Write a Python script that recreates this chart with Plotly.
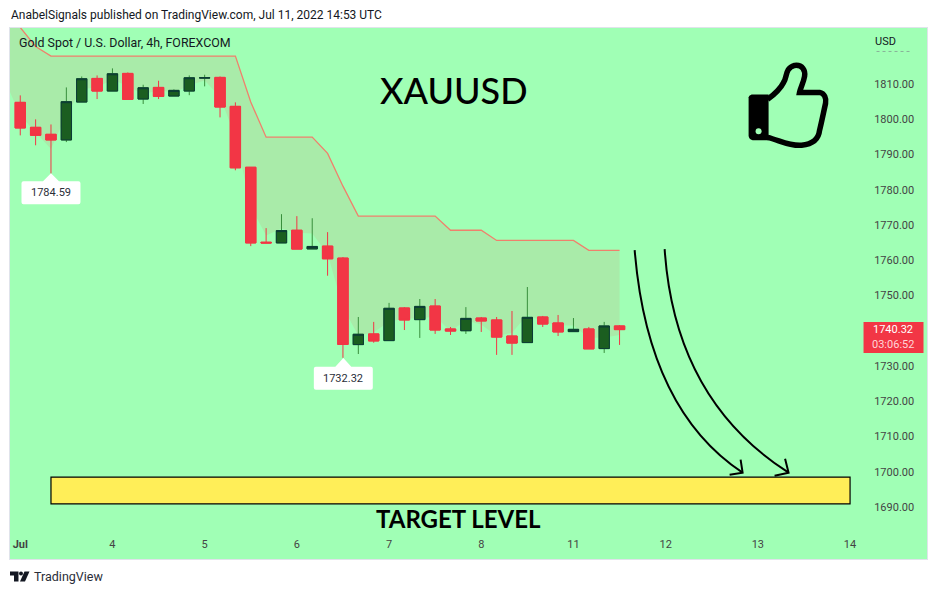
import plotly.graph_objects as go

bar_index = list(range(40))
opens = [1804.76,1797.68,1795.7,1794.1,1804.85,1811.55,1807.97,1812.97,1805.7,1809.0,1806.55,1807.97,1811.65,1811.84,1803.63,1786.36,1765.1,1764.9,1768.5,1763.2,
         1764.0,1760.6,1736.07,1739.1,1737.2,1746.45,1743.15,1747.0,1740.5,1740.0,1743.6,1743.05,1738.5,1736.64,1743.9,1742.2,1739.75,1740.5,1734.94,1741.36]
closes = [1797.5,1795.42,1794.1,1804.95,1811.46,1807.97,1812.87,1805.6,1808.9,1806.46,1808.16,1811.74,1811.74,1803.44,1786.2,1764.9,1764.9,1768.4,1763.15,1763.9,
          1760.4,1736.1,1739.0,1737.1,1746.36,1743.05,1746.9,1740.2,1739.9,1743.5,1742.77,1738.2,1736.5,1743.8,1741.9,1739.66,1740.4,1734.85,1741.36,1740.32]
highs = [1806.74,1799.95,1798.5,1809.0,1812.1,1812.4,1814.4,1813.25,1809.76,1810.9,1808.44,1812.4,1812.6,1812.1,1804.76,1786.36,1769.1,1773.06,1772.5,1771.9,
         1767.96,1760.9,1743.9,1742.5,1747.9,1746.7,1749.0,1749.0,1741.07,1746.7,1743.9,1743.9,1745.6,1752.4,1744.2,1744.47,1743.6,1741.07,1742.5,1741.6]
lows = [1795.4,1792.59,1784.59,1793.5,1804.85,1805.7,1807.97,1805.6,1804.3,1805.7,1806.55,1806.8,1809.3,1800.5,1785.5,1764.0,1764.9,1764.9,1763.15,1763.2,
        1755.6,1732.32,1733.4,1736.6,1737.2,1740.2,1737.96,1739.1,1738.8,1739.1,1739.66,1733.15,1733.15,1736.64,1741.07,1738.5,1739.75,1734.85,1733.7,1735.98]
band_x = [-1] + bar_index
band_upper = [1832,1826,1820.6,1817.9,1817.9,1817.9,1817.9,1817.9,1817.9,1817.9,1817.9,1817.9,1817.9,1817.9,1817.9,1817.9,1804.85,1794.9,1794.9,1794.9,1794.9,
              1790.3,1781,1772.5,1772.5,1772.5,1772.5,1772.5,1772.5,1768.5,1768.5,1768.5,1765.6,1765.6,1765.6,1765.6,1765.6,1765.6,1762.8,1762.8,1762.8]
band_lower = [1811,1801.07,1796.27,1791.55,1801.25,1808.5,1809.05,1811.2,1809.4,1807.0,1808.3,1807.5,1809.6,1810.95,1806.3,1795.1,1775.2,1767,1769,1767.8,1767.55,
              1761.8,1746.6,1738.65,1739.55,1742.55,1743.45,1743.5,1744.05,1739.95,1742.9,1741.8,1738.5,1739.4,1744.5,1742.6,1741.5,1741.5,1737.95,1738.1,1738.8]
tick_positions = [0,6,12,18,24,30,36,42,48,54]
tick_labels = ["<b>Jul</b>","4","5","6","7","8","11","12","13","14"]
price_ticks = [1690,1700,1710,1720,1730,1740,1750,1760,1770,1780,1790,1800,1810]
target_low, target_high = 1690.9, 1698.5
target_start, target_end = 2, 54

W, H = 938, 595
L, R, T, B = 10, 927.5, 27.5, 559.5
X_RANGE = [-0.667, 59.007]
Y_RANGE = [1675.27, 1825.85]
BG = "#A0FFB5"
RED = "#F23645"
GREEN = "#1B5E20"
WICK = "#388E3C"
EDGE = "#0B3B36"
FONT = "Roboto"

def px(x):
    return (x - L) / (R - L)
def py(y):
    return (B - y) / (B - T)
def path(points, close=True):
    s = ""
    for cmd, *c in points:
        s += cmd
        s += " ".join(f"{px(c[i]):.5f},{py(c[i+1]):.5f}" for i in range(0, len(c), 2)) + " "
    return s + ("Z" if close else "")

fig = go.Figure()
fig.add_trace(go.Scatter(x=band_x, y=band_lower, mode="lines", line=dict(width=0), showlegend=False, hoverinfo="skip"))
fig.add_trace(go.Scatter(x=band_x, y=band_upper, mode="lines", line=dict(color="#F0806C", width=1.3),
                         fill="tonexty", fillcolor="#A9EBA9", showlegend=False, hoverinfo="skip"))
fig.add_trace(go.Candlestick(x=bar_index, open=opens, high=highs, low=lows, close=closes, xaxis="x2", yaxis="y2",
                             increasing=dict(line=dict(color=WICK, width=1), fillcolor=GREEN),
                             decreasing=dict(line=dict(color=RED, width=1), fillcolor=RED),
                             showlegend=False, hoverinfo="skip"))
fig.add_trace(go.Candlestick(x=bar_index, open=opens, close=closes, xaxis="x2", yaxis="y2",
                             high=[max(o, c) for o, c in zip(opens, closes)],
                             low=[min(o, c) for o, c in zip(opens, closes)],
                             increasing=dict(line=dict(color=EDGE, width=1), fillcolor=GREEN),
                             decreasing=dict(line=dict(color=RED, width=1), fillcolor=RED),
                             showlegend=False, hoverinfo="skip"))

def bubble(cx, top, apex):
    r = 2
    l, rt, b = cx - 29.5, cx + 29.5, top + 23
    return path([("M", cx, apex), ("L", cx + 8, top), ("L", rt - r, top), ("Q", rt, top, rt, top + r),
                 ("L", rt, b - r), ("Q", rt, b, rt - r, b), ("L", l + r, b), ("Q", l, b, l, b - r),
                 ("L", l, top + r), ("Q", l, top, l + r, top), ("L", cx - 8, top)])

shapes = [
    dict(type="rect", xref="x", yref="y", x0=target_start, x1=target_end, y0=target_low, y1=target_high,
         fillcolor="#FFEE58", line=dict(color="black", width=1.2)),
    dict(type="path", xref="paper", yref="paper", path=bubble(51, 181, 173), fillcolor="white", line=dict(width=0)),
    dict(type="path", xref="paper", yref="paper", path=bubble(343.5, 367, 358), fillcolor="white", line=dict(width=0)),
    dict(type="rect", xref="paper", yref="paper", x0=px(864), x1=px(924), y0=py(353), y1=py(322), fillcolor=RED, line=dict(width=0)),
    dict(type="line", xref="paper", yref="paper", x0=px(877), x1=px(912), y0=py(51), y1=py(51), line=dict(color="#88B098", width=1, dash="dot")),
]
# arrows
for pts in (
    [("M", 635, 250), ("Q", 648, 410, 743, 473)],
    [("M", 730, 475), ("L", 743, 473), ("L", 741, 460)],
    [("M", 665, 249), ("Q", 675, 400, 789, 473)],
    [("M", 775, 476), ("L", 789, 473), ("L", 785.5, 459)],
):
    shapes.append(dict(type="path", xref="paper", yref="paper", path=path(pts, close=False), line=dict(color="black", width=2)))

# thumbs up
thumb_outline = [("M", 768, 99), ("C", 776, 93, 781, 88, 784, 82), ("C", 788, 76, 785, 68, 795, 65),
                 ("C", 803, 64, 806, 70, 805, 76), ("C", 804, 82, 801, 87, 800, 92), ("L", 820, 92),
                 ("C", 825, 93, 827, 98, 826, 103), ("C", 824, 112, 822, 122, 820, 130),
                 ("C", 819, 140, 812, 144, 802, 145), ("C", 790, 146, 780, 140, 768, 137)]
shapes.append(dict(type="path", xref="paper", yref="paper", path=path(thumb_outline, close=False), line=dict(color="black", width=5.5)))
shapes.append(dict(type="path", xref="paper", yref="paper",
                   path=path([("M", 752, 94), ("L", 769, 94), ("L", 769, 140), ("L", 753, 140), ("Q", 749, 139, 749, 135), ("L", 749, 97), ("Q", 749, 95, 752, 94)]),
                   fillcolor="black", line=dict(width=0)))
shapes.append(dict(type="circle", xref="paper", yref="paper", x0=px(756), x1=px(762), y0=py(134), y1=py(128), fillcolor=BG, line=dict(width=0)))
# logo
shapes.append(dict(type="path", xref="paper", yref="paper",
                   path=path([("M", 10, 572), ("L", 18.5, 572), ("L", 18.5, 582), ("L", 14, 582), ("L", 14, 576), ("L", 10, 576)]),
                   fillcolor="#131722", line=dict(width=0)))
shapes.append(dict(type="circle", xref="paper", yref="paper", x0=px(19), x1=px(23), y0=py(576), y1=py(572), fillcolor="#131722", line=dict(width=0)))
shapes.append(dict(type="path", xref="paper", yref="paper",
                   path=path([("M", 24.5, 572), ("L", 29.5, 572), ("L", 25, 582), ("L", 20, 582)]),
                   fillcolor="#131722", line=dict(width=0)))

def note(x, y, text, size=11, color="#131722", anchor="left", family=FONT, weight=None):
    return dict(xref="paper", yref="paper", x=px(x), y=py(y), text=text, showarrow=False, xanchor=anchor, yanchor="middle",
                font=dict(family=family, size=size, color=color, weight=weight), borderpad=0, bgcolor="rgba(0,0,0,0)")

annotations = [
    note(10, 14.5, "AnabelSignals published on TradingView.com, Jul 11, 2022 14:53 UTC", size=12),
    note(18, 42, "Gold Spot / U.S. Dollar, 4h, FOREXCOM", size=12.4),
    note(874, 41, "USD"),
    note(454, 90, "XAUUSD", size=36, color="black", anchor="center", family="Lato", weight=500),
    note(459, 519, "TARGET LEVEL", size=24, color="black", anchor="center", family="Lato", weight=700),
    note(51, 192.5, "1784.59", anchor="center", color="#2A2E39"),
    note(343.5, 378.5, "1732.32", anchor="center", color="#2A2E39"),
    note(893, 330, "1740.32", anchor="center", color="white", size=11),
    note(893, 345, "03:06:52", anchor="center", color="#FFD5D8", size=11),
    note(33, 577.5, "TradingView", size=12.5, color="#2A2E39"),
]

fig.update_layout(
    width=W, height=H, margin=dict(l=L, r=W - R, t=T, b=H - B, pad=0),
    paper_bgcolor="white", plot_bgcolor=BG, showlegend=False, shapes=shapes, annotations=annotations,
    font=dict(family=FONT, size=11, color="#131722"), hovermode=False,
    boxgap=0.18, boxgroupgap=0.18,
    xaxis=dict(range=X_RANGE, rangeslider=dict(visible=False), showgrid=False, zeroline=False,
               tickmode="array", tickvals=tick_positions, ticktext=tick_labels, ticks="",
               ticklabelposition="inside", ticklabelstandoff=8,
               showline=True, linecolor="#E0E3EB", linewidth=1, mirror=True),
    yaxis=dict(range=Y_RANGE, side="right", showgrid=False, zeroline=False,
               tickmode="array", tickvals=price_ticks, ticktext=[f"{v:.2f}" for v in price_ticks], ticks="",
               ticklabelposition="inside", ticklabelstandoff=12,
               showline=True, linecolor="#E0E3EB", linewidth=1, mirror=True),
    xaxis2=dict(range=X_RANGE, overlaying="x", visible=False, rangeslider=dict(visible=False)),
    yaxis2=dict(range=Y_RANGE, overlaying="y", visible=False),
)
fig.write_html("out.html", config=dict(displayModeBar=False), post_script="document.body.style.margin='0';")
